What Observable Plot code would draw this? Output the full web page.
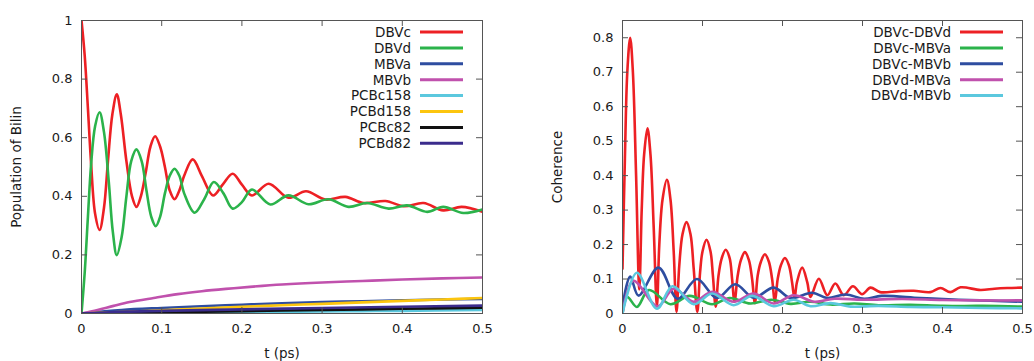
<!DOCTYPE html>
<html><head><meta charset="utf-8">
<script src="https://cdn.jsdelivr.net/npm/d3@7"></script>
<script src="https://cdn.jsdelivr.net/npm/@observablehq/plot@0.6"></script>
<style>
body{margin:0;background:#fff}
#wrap{display:flex;width:1034px;height:361px;overflow:hidden}
</style>
</head><body><div id="wrap"></div>
<script>
// ---------- shared ----------
const xTicks = [0, 0.1, 0.2, 0.3, 0.4, 0.5];
const xLabel = "t (ps)";

// ---------- left panel: populations ----------
const leftNames = ["DBVc", "DBVd", "MBVa", "MBVb", "PCBc158", "PCBd158", "PCBc82", "PCBd82"];
const leftColors = ["#ed2024", "#2bb34b", "#2e4da0", "#c051ad", "#5bc8de", "#fcc50e", "#111111", "#3b2c8c"];
const leftYTicks = [0, 0.2, 0.4, 0.6, 0.8, 1];
const leftYLabel = "Population of Bilin";

const dbvcT = [0,0.004,0.008,0.012,0.017,0.0225,0.028,0.033,0.0385,0.044,0.049,0.056,0.063,0.0685,0.074,0.08,0.086,0.0918,0.098,0.104,0.11,0.116,0.122,0.128,0.1387,0.15,0.164,0.176,0.1885,0.2,0.2126,0.2334,0.258,0.28,0.304,0.329,0.352,0.379,0.402,0.4265,0.451,0.474,0.5];
const dbvcV = [1,0.88,0.7,0.51,0.34,0.285,0.36,0.52,0.68,0.748,0.68,0.52,0.40,0.364,0.40,0.48,0.57,0.605,0.57,0.5,0.42,0.39,0.42,0.47,0.526,0.47,0.403,0.44,0.477,0.44,0.403,0.443,0.395,0.417,0.389,0.398,0.377,0.384,0.366,0.377,0.352,0.364,0.347];
const dbvdT = [0,0.004,0.008,0.012,0.017,0.0225,0.028,0.034,0.039,0.044,0.05,0.056,0.062,0.0685,0.075,0.081,0.087,0.0926,0.098,0.104,0.11,0.116,0.122,0.128,0.141,0.153,0.165,0.177,0.1885,0.2,0.2126,0.2355,0.258,0.283,0.308,0.333,0.356,0.383,0.406,0.431,0.451,0.476,0.5];
const dbvdV = [0,0.14,0.33,0.51,0.64,0.687,0.62,0.45,0.28,0.199,0.26,0.40,0.52,0.56,0.52,0.42,0.33,0.298,0.33,0.41,0.47,0.494,0.47,0.41,0.344,0.39,0.449,0.41,0.358,0.38,0.423,0.372,0.403,0.373,0.39,0.364,0.377,0.358,0.369,0.347,0.364,0.343,0.355];
const mbvaT = [0,0.05,0.1,0.15,0.2,0.25,0.3,0.35,0.4,0.45,0.5];
const mbvaV = [0,0.012,0.019,0.025,0.03,0.035,0.039,0.042,0.045,0.048,0.05];
const mbvbT = [0,0.02,0.04,0.06,0.09,0.12,0.15,0.18,0.21,0.25,0.3,0.35,0.4,0.45,0.5];
const mbvbV = [0,0.012,0.026,0.039,0.053,0.066,0.076,0.084,0.091,0.099,0.106,0.111,0.116,0.12,0.123];
const pcbc158T = [0,0.1,0.2,0.3,0.4,0.5];
const pcbc158V = [0,0.002,0.004,0.007,0.009,0.012];
const pcbd158T = [0,0.05,0.1,0.15,0.2,0.25,0.3,0.35,0.4,0.45,0.5];
const pcbd158V = [0,0.005,0.011,0.017,0.023,0.028,0.033,0.038,0.043,0.048,0.053];
const pcbc82T = [0,0.1,0.2,0.3,0.4,0.5];
const pcbc82V = [0,0.004,0.008,0.012,0.016,0.02];
const pcbd82T = [0,0.05,0.1,0.2,0.3,0.4,0.5];
const pcbd82V = [0,0.006,0.009,0.014,0.019,0.023,0.027];

// ---------- right panel: coherences ----------
const rightNames = ["DBVc-DBVd", "DBVc-MBVa", "DBVc-MBVb", "DBVd-MBVa", "DBVd-MBVb"];
const rightColors = ["#ed2024", "#2bb34b", "#2e4da0", "#c051ad", "#5bc8de"];
const rightYTicks = [0, 0.1, 0.2, 0.3, 0.4, 0.5, 0.6, 0.7, 0.8];
const rightYLabel = "Coherence";

const cdT = [0,0.003,0.006,0.0096,0.013,0.017,0.021,0.024,0.027,0.0312,0.035,0.039,0.043,0.046,0.05,0.0555,0.06,0.064,0.0675,0.071,0.075,0.08,0.085,0.089,0.0935,0.097,0.1,0.105,0.11,0.113,0.1165,0.12,0.124,0.129,0.134,0.137,0.14,0.144,0.148,0.153,0.158,0.162,0.1655,0.169,0.173,0.178,0.183,0.187,0.1905,0.194,0.198,0.203,0.208,0.212,0.215,0.218,0.2246,0.231,0.235,0.2454,0.256,0.266,0.2766,0.288,0.2995,0.31,0.322,0.345,0.364,0.385,0.3975,0.41,0.4225,0.4475,0.465,0.481,0.5];
const cdV = [0.13,0.45,0.7,0.8,0.7,0.4,0.07,0.3,0.46,0.537,0.46,0.25,0.02,0.2,0.33,0.388,0.33,0.18,0.005,0.14,0.23,0.265,0.23,0.13,0.005,0.12,0.18,0.214,0.18,0.11,0.02,0.11,0.16,0.185,0.16,0.1,0.034,0.11,0.155,0.178,0.155,0.1,0.03,0.11,0.15,0.172,0.15,0.1,0.034,0.1,0.14,0.161,0.14,0.09,0.043,0.09,0.133,0.09,0.048,0.101,0.053,0.087,0.053,0.079,0.056,0.075,0.062,0.065,0.066,0.062,0.074,0.062,0.076,0.068,0.072,0.074,0.075];
const caT = [0,0.006,0.018,0.033,0.06,0.084,0.112,0.134,0.16,0.186,0.21,0.235,0.26,0.29,0.32,0.36,0.4,0.45,0.5];
const caV = [0,0.048,0.019,0.068,0.027,0.051,0.027,0.045,0.029,0.04,0.028,0.034,0.026,0.029,0.024,0.025,0.022,0.022,0.02];
const cbT = [0,0.0096,0.02,0.045,0.069,0.093,0.118,0.141,0.164,0.189,0.21,0.237,0.256,0.279,0.302,0.324,0.372,0.42,0.46,0.5];
const cbV = [0.02,0.107,0.052,0.133,0.043,0.1,0.045,0.085,0.046,0.075,0.045,0.06,0.045,0.055,0.043,0.051,0.045,0.04,0.037,0.034];
const daT = [0,0.0135,0.044,0.064,0.089,0.112,0.139,0.164,0.189,0.214,0.24,0.265,0.3,0.35,0.4,0.45,0.5];
const daV = [0,0.095,0.021,0.072,0.034,0.063,0.034,0.058,0.029,0.053,0.034,0.043,0.04,0.042,0.039,0.038,0.038];
const dbT = [0,0.018,0.043,0.0624,0.089,0.112,0.139,0.162,0.189,0.214,0.235,0.26,0.285,0.32,0.36,0.4,0.45,0.5];
const dbV = [0,0.118,0.014,0.079,0.027,0.058,0.024,0.051,0.021,0.04,0.021,0.03,0.02,0.022,0.019,0.018,0.016,0.015];

const leftSeries = [
  {name: leftNames[0], t: dbvcT, v: dbvcV},
  {name: leftNames[1], t: dbvdT, v: dbvdV},
  {name: leftNames[2], t: mbvaT, v: mbvaV},
  {name: leftNames[3], t: mbvbT, v: mbvbV},
  {name: leftNames[4], t: pcbc158T, v: pcbc158V},
  {name: leftNames[5], t: pcbd158T, v: pcbd158V},
  {name: leftNames[6], t: pcbc82T, v: pcbc82V},
  {name: leftNames[7], t: pcbd82T, v: pcbd82V}
];
const rightSeries = [
  {name: rightNames[0], t: cdT, v: cdV},
  {name: rightNames[1], t: caT, v: caV},
  {name: rightNames[2], t: cbT, v: cbV},
  {name: rightNames[3], t: daT, v: daV},
  {name: rightNames[4], t: dbT, v: dbV}
];

const FONT = "'DejaVu Sans', 'Liberation Sans', sans-serif";
const INK = "#1a1a1a";
const FRAME = "#555555";

function panel({series, names, colors, yDomain, yTicks, yLabel, width, marginLeft, marginRight}) {
  const height = 361, marginTop = 20, marginBottom = 48;
  const rows = series.flatMap(s => s.t.map((t, i) => ({t, v: s.v[i], name: s.name})));
  const svg = Plot.plot({
    width, height, marginLeft, marginRight, marginTop, marginBottom,
    style: {fontFamily: FONT, fontSize: "13px", color: INK, background: "white", overflow: "visible"},
    x: {domain: [0, 0.5]},
    y: {domain: yDomain},
    color: {domain: names, range: colors},
    marks: [
      Plot.line(rows, {x: "t", y: "v", z: "name", stroke: "name", strokeWidth: 2.6, curve: "catmull-rom", clip: true}),
      Plot.frame({stroke: FRAME}),
      Plot.ruleX(xTicks, {x: d => d, y1: yDomain[0], y2: yDomain[0], insetTop: -6, stroke: FRAME}),
      Plot.ruleX(xTicks, {x: d => d, y1: yDomain[1], y2: yDomain[1], insetBottom: -6, stroke: FRAME}),
      Plot.ruleY(yTicks, {y: d => d, x1: 0, x2: 0, insetRight: -6, stroke: FRAME}),
      Plot.ruleY(yTicks, {y: d => d, x1: 0.5, x2: 0.5, insetLeft: -6, stroke: FRAME}),
      Plot.axisX(xTicks, {tickSize: 0, tickPadding: 10, tickFormat: d => String(d), label: null, fill: INK}),
      Plot.axisY(yTicks, {tickSize: 0, tickPadding: 9, tickFormat: d => String(d), label: null, fill: INK}),
      Plot.text([xLabel], {text: d => d, frameAnchor: "bottom", lineAnchor: "middle", textAnchor: "middle", dy: 40, fontSize: 13.5, fill: INK}),
      Plot.text([yLabel], {text: d => d, frameAnchor: "left", lineAnchor: "middle", textAnchor: "middle", rotate: -90, dx: -65, fontSize: 13.5, fill: INK})
    ]
  });
  // legend (gnuplot style, inside top-right)
  const right = width - marginRight;
  const g = d3.select(svg).append("g").attr("font-family", FONT).attr("font-size", 13.5);
  names.forEach((n, i) => {
    const y = marginTop + 12 + i * 15.9;
    g.append("text").attr("x", right - 71).attr("y", y).attr("dy", "0.36em")
      .attr("text-anchor", "end").attr("fill", INK).text(n);
    g.append("line").attr("x1", right - 62).attr("x2", right - 19).attr("y1", y).attr("y2", y)
      .attr("stroke", colors[i]).attr("stroke-width", 3);
  });
  return svg;
}

const wrap = document.getElementById("wrap");
wrap.appendChild(panel({series: leftSeries, names: leftNames, colors: leftColors, yDomain: [0, 1], yTicks: leftYTicks, yLabel: leftYLabel, width: 520, marginLeft: 81, marginRight: 38}));
wrap.appendChild(panel({series: rightSeries, names: rightNames, colors: rightColors, yDomain: [0, 0.85], yTicks: rightYTicks, yLabel: rightYLabel, width: 514, marginLeft: 102, marginRight: 12}));
</script></body></html>
